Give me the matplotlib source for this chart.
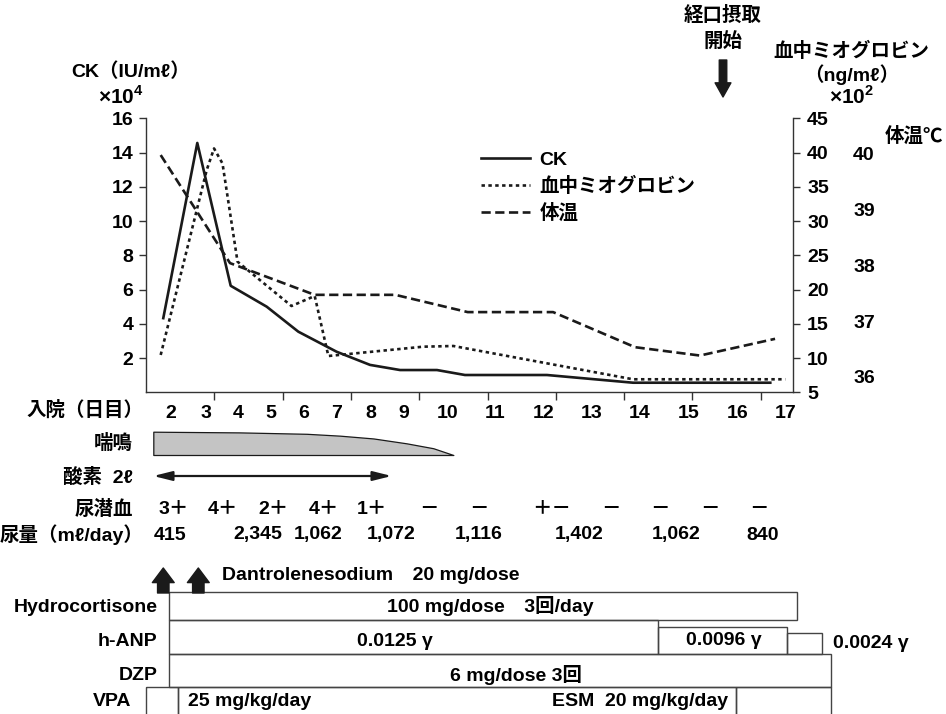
import numpy as np
import matplotlib
matplotlib.use("Agg")
import matplotlib.pyplot as plt
from matplotlib.transforms import blended_transform_factory

plt.rcParams['font.family'] = ['Liberation Sans', 'Noto Sans CJK JP', 'DejaVu Sans']
plt.rcParams['font.weight'] = 'bold'
plt.rcParams['font.size'] = 14
plt.rcParams['mathtext.fontset'] = 'custom'
plt.rcParams['mathtext.rm'] = 'Liberation Sans:bold'

W, H = 946, 714
def fx(p): return p / W
def fy(p): return 1 - p / H

# x: 横軸の目盛り単位 (目盛り線は 1..9)
XMAX = 9.477
days = [str(d) for d in range(2, 18)]
day_pos = [0.36, 0.874, 1.35, 1.83, 2.31, 2.79, 3.29, 3.78, 4.42,
           5.11, 5.82, 6.53, 7.22, 7.94, 8.66, 9.36]

# CK (x10^4 IU/ml)
ck_x = [0.253, 0.751, 1.24, 1.767, 2.23, 2.79, 3.28, 3.72, 4.26, 4.67, 5.87, 7.13, 9.14]
ck_y = [4.33, 14.56, 6.22, 5.0, 3.54, 2.37, 1.60, 1.30, 1.30, 1.01, 1.01, 0.56, 0.56]
# 血中ミオグロビン (x10^2 ng/ml)
mb_x = [0.215, 0.889, 0.996, 1.12, 1.34, 2.13, 2.47, 2.67, 4.06, 4.50, 7.13, 9.36]
mb_y = [10.45, 37.45, 40.6, 38.4, 24.07, 17.6, 19.06, 10.3, 11.66, 11.76, 6.9, 6.9]
# 体温 (℃)
bt_x = [0.215, 1.23, 2.47, 3.65, 4.71, 5.96, 7.16, 8.11, 9.21]
bt_y = [39.98, 38.04, 37.47, 37.47, 37.16, 37.16, 36.53, 36.38, 36.68]

# 喘鳴 (強さ)
wheeze_x = [0.107, 1.376, 2.353, 2.84, 3.33, 3.817, 4.207, 4.50]
wheeze_lv = [1.0, 0.97, 0.91, 0.83, 0.71, 0.5, 0.29, 0.0]
o2_span = (0.107, 3.597)
occult = ['3＋', '4＋', '2＋', '4＋', '1＋', '－', '－', '＋－', '－', '－', '－', '－']
occult_x = [0.40, 1.13, 1.86, 2.60, 3.31, 4.14, 4.87, 5.94, 6.80, 7.53, 8.26, 8.98]
urine = ['415', '2,345', '1,062', '1,072', '1,116', '1,402', '1,062', '840']
urine_x = [0.351, 1.632, 2.523, 3.584, 4.878, 6.343, 7.757, 9.026]
dantrolene_x = [0.253, 0.766]
oral_x = 8.448

hydro = [(0.341, 9.536)]
anp = [(0.341, 7.50), (7.50, 9.39), (9.39, 9.89)]
dzp = [(0.341, 10.03)]
vpa = [(0.0, 0.473), (0.473, 8.638), (8.638, 10.03)]

fig = plt.figure(figsize=(9.46, 7.14), dpi=100)
ax = fig.add_axes([fx(146), fy(392.3), fx(793.3) - fx(146), (392.3 - 118.3) / H])
ax2 = ax.twinx()
ax3 = ax.twinx()

lk = '#1a1a1a'
l1, = ax.plot(ck_x, ck_y, color=lk, lw=1.9, label='CK')
l2, = ax2.plot(mb_x, mb_y, color=lk, lw=1.9, dashes=(1.3, 1.3), label='血中ミオグロビン')
l3, = ax3.plot(bt_x, bt_y, color=lk, lw=1.9, dashes=(3.5, 1.7), label='体温')

ax.set_xlim(0, XMAX)
ax.set_ylim(0, 16)
ax2.set_ylim(5, 45)
ax3.set_ylim(35.72, 40.64)

for a in (ax, ax2, ax3):
    for s in a.spines.values():
        s.set_visible(False)
        s.set_linewidth(1.0)
        s.set_color('#333333')
ax.spines['left'].set_visible(True)
ax.spines['bottom'].set_visible(True)
ax2.spines['right'].set_visible(True)

ax.set_yticks(range(2, 17, 2))
ax.tick_params(axis='y', length=5, width=1, color='#333333', pad=4, labelsize=14)
ax.set_xticks(day_pos, labels=days)
ax.set_xticks(range(1, 10), minor=True)
ax.tick_params(axis='x', which='major', length=0, pad=9, labelsize=14)
ax.tick_params(axis='x', which='minor', length=6, width=1, color='#333333')
ax2.set_yticks(range(5, 46, 5))
ax2.tick_params(axis='y', length=5, width=1, color='#333333', pad=5, labelsize=14)
ax3.set_yticks(range(36, 41))
ax3.tick_params(axis='y', length=0, pad=43, labelsize=14)

ax3.legend(handles=[l1, l2, l3], loc='upper left', bbox_to_anchor=(fx(481), fy(151)),
           bbox_transform=fig.transFigure, frameon=False, fontsize=14,
           handlelength=2.5, handletextpad=0.5, labelspacing=0.42, borderpad=0, borderaxespad=0)

# 軸タイトル
fig.text(fx(71), fy(71.7), 'CK（IU/mℓ）', ha='left', va='center', fontsize=14)
fig.text(fx(98), fy(96.7), r'×10$^{4}$', ha='left', va='center', fontsize=15)
fig.text(fx(851), fy(51.7), '血中ミオグロビン', ha='center', va='center', fontsize=14)
fig.text(fx(851.7), fy(75), '（ng/mℓ）', ha='center', va='center', fontsize=14)
fig.text(fx(851.7), fy(96.7), r'×10$^{2}$', ha='center', va='center', fontsize=15)
fig.text(fx(914), fy(136.7), '体温℃', ha='center', va='center', fontsize=14)

# 経口摂取開始
tr = blended_transform_factory(ax.transData, fig.transFigure)
ax.text(oral_x, fy(15), '経口摂取', transform=tr, ha='center', va='center', fontsize=14)
ax.text(oral_x, fy(41.7), '開始', transform=tr, ha='center', va='center', fontsize=14)
ax.annotate('', xy=(oral_x, fy(97)), xytext=(oral_x, fy(60)),
            xycoords=('data', 'figure fraction'), textcoords=('data', 'figure fraction'),
            arrowprops=dict(arrowstyle='simple,head_width=0.95,head_length=0.85,tail_width=0.45',
                            color=lk, mutation_scale=12, shrinkA=0, shrinkB=0))

# 下段
axb = fig.add_axes([fx(146), 0, fx(793.3) - fx(146), fy(395)])
axb.set_xlim(0, XMAX)
axb.set_ylim(714, 395)
axb.axis('off')

row_labels = [('入院（日目）', 143, 410.7), ('喘鳴', 132.7, 443.3), ('酸素  2ℓ', 133, 477),
              ('尿潜血', 132.7, 509), ('尿量（mℓ/day）', 143, 535),
              ('Hydrocortisone', 157.3, 607), ('h-ANP', 157.3, 641.7),
              ('DZP', 157.3, 675), ('VPA', 131.7, 701.7)]
for t, x, y in row_labels:
    fig.text(fx(x), fy(y), t, ha='right', va='center', fontsize=14)

wl = np.array(wheeze_lv)
axb.fill_between(wheeze_x, 455, 455 - 23.3 * wl, facecolor='#c4c4c4', edgecolor=lk, lw=0.9)

axb.annotate('', xy=(o2_span[1], 476), xytext=(o2_span[0], 476),
             arrowprops=dict(arrowstyle='<|-|>,head_length=0.8,head_width=0.2', color=lk,
                             lw=1.6, mutation_scale=14, shrinkA=0, shrinkB=0))

for t, x in zip(occult, occult_x):
    axb.text(x, 509, t, ha='center', va='center', fontsize=14)
for t, x in zip(urine, urine_x):
    axb.text(x, 535, t, ha='center', va='center', fontsize=14)

for x in dantrolene_x:
    axb.annotate('', xy=(x, 568), xytext=(x, 593),
                 arrowprops=dict(arrowstyle='simple,head_width=1.05,head_length=0.7,tail_width=0.55',
                                 color=lk, mutation_scale=15, shrinkA=0, shrinkB=0))
axb.text(1.108, 576, 'Dantrolenesodium　20 mg/dose', ha='left', va='center', fontsize=14)

def boxes(spans, tops, bottom):
    for (a, b), t in zip(spans, tops):
        axb.bar(a, bottom - t, width=b - a, bottom=t, align='edge', facecolor='none',
                edgecolor='#444444', lw=1.0, clip_on=False)

boxes(hydro, [592.3], 620)
boxes(anp, [620, 626.7, 633.3], 654)
boxes(dzp, [654], 687.3)
boxes(vpa, [687.3] * 3, 730)

axb.text(5.04, 606, '100 mg/dose　3回/day', ha='center', va='center', fontsize=14)
axb.text(3.646, 641.7, '0.0125 γ', ha='center', va='center', fontsize=14)
axb.text(8.463, 640.5, '0.0096 γ', ha='center', va='center', fontsize=14)
axb.text(10.06, 643, '0.0024 γ', ha='left', va='center', fontsize=14, clip_on=False)
axb.text(5.417, 675, '6 mg/dose 3回', ha='center', va='center', fontsize=14)
axb.text(0.619, 701.7, '25 mg/kg/day', ha='left', va='center', fontsize=14)
axb.text(8.52, 701.7, 'ESM  20 mg/kg/day', ha='right', va='center', fontsize=14)

fig.savefig('out.png', dpi=100)
